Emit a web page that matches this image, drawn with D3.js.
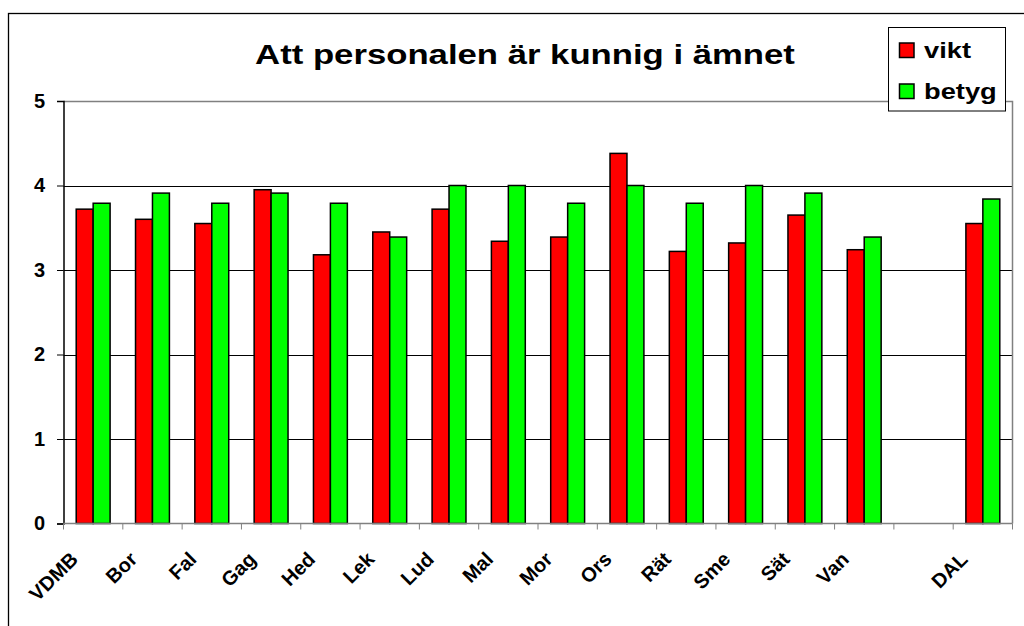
<!DOCTYPE html>
<html>
<head>
<meta charset="utf-8">
<script src="https://cdn.jsdelivr.net/npm/d3@7"></script>
<style>
  body { margin: 0; background: #fff; }
  svg text { font-family: "Liberation Sans", Arial, sans-serif; font-weight: bold; }
</style>
</head>
<body>
<div id="chart"></div>
<script>
const categories = ['VDMB', 'Bor', 'Fal', 'Gag', 'Hed', 'Lek', 'Lud', 'Mal', 'Mor', 'Ors', 'Rät', 'Sme', 'Sät', 'Van', '', 'DAL'];
const vikt  = [3.72, 3.60, 3.55, 3.95, 3.18, 3.45, 3.72, 3.34, 3.39, 4.38, 3.22, 3.32, 3.65, 3.24, null, 3.55];
const betyg = [3.79, 3.91, 3.79, 3.91, 3.79, 3.39, 4.00, 4.00, 3.79, 4.00, 3.79, 4.00, 3.91, 3.39, null, 3.84];
const seriesNames = ['vikt', 'betyg'];
const seriesColors = ['#ff0000', '#00ff00'];
const yTicks = [0, 1, 2, 3, 4, 5];

const width = 1024;
const height = 626;
const plot = { left: 63.5, right: 1012.5, top: 101, bottom: 523.5 };
const stretch = 1.24; // the original text is drawn a bit wide

const svg = d3.select('#chart')
  .append('svg')
  .attr('width', width)
  .attr('height', height);

// outer chart frame (cut off at right and bottom like the original)
svg.append('rect')
  .attr('x', 8.5)
  .attr('y', 13.5)
  .attr('width', 1030)
  .attr('height', 630)
  .attr('fill', 'none')
  .attr('stroke', '#000')
  .attr('stroke-width', 1.3);

const x = d3.scaleBand()
  .domain(categories.map((c, i) => i))
  .range([plot.left, plot.right]);

const x1 = d3.scaleBand()
  .domain(seriesNames)
  .range([0, x.bandwidth()])
  .paddingInner(0)
  .paddingOuter(0.75);

const y = d3.scaleLinear()
  .domain([0, 5])
  .range([plot.bottom, plot.top]);

// gridlines
svg.append('g')
  .selectAll('line')
  .data(yTicks.filter(t => t > 0 && t < 5))
  .enter()
  .append('line')
  .attr('x1', plot.left)
  .attr('x2', plot.right)
  .attr('y1', d => Math.round(y(d)) + 0.5)
  .attr('y2', d => Math.round(y(d)) + 0.5)
  .attr('stroke', '#000');

// plot area border (top/right)
svg.append('path')
  .attr('d', `M${plot.left},${plot.top + 0.5}H${plot.right}V${plot.bottom}`)
  .attr('fill', 'none')
  .attr('stroke', '#808080')
  .attr('stroke-width', 1.5);

// bars
const data = [vikt, betyg];
const groups = svg.append('g')
  .selectAll('g')
  .data(categories.map((c, i) => i))
  .enter()
  .append('g')
  .attr('transform', i => `translate(${x(i)},0)`);

groups.selectAll('rect')
  .data(i => seriesNames.map((s, k) => ({ s, k, v: data[k][i] })).filter(d => d.v != null))
  .enter()
  .append('rect')
  .attr('x', d => x1(d.s))
  .attr('y', d => y(d.v))
  .attr('width', x1.bandwidth())
  .attr('height', d => y(0) - y(d.v))
  .attr('fill', d => seriesColors[d.k])
  .attr('stroke', '#000')
  .attr('stroke-width', 1.5);

// y axis
const yAxis = d3.axisLeft(y)
  .tickValues(yTicks)
  .tickSize(6.5)
  .tickPadding(12)
  .tickFormat(d3.format('d'));

const yg = svg.append('g')
  .attr('transform', `translate(${plot.left},0)`)
  .call(yAxis);
yg.select('.domain').attr('stroke', '#000').attr('stroke-width', 1.5);
yg.selectAll('.tick line').attr('stroke', '#000');
yg.selectAll('.tick text')
  .attr('font-size', 20)
  .attr('font-family', '"Liberation Sans", Arial, sans-serif')
  .attr('font-weight', 'bold')
  .attr('fill', '#000');

// x axis: ticks at category boundaries
const xg = svg.append('g')
  .attr('transform', `translate(0,${plot.bottom})`);
xg.append('line')
  .attr('x1', plot.left)
  .attr('x2', plot.right)
  .attr('stroke', '#808080')
  .attr('stroke-width', 1.5);
xg.selectAll('.xtick')
  .data(categories.map((c, i) => i).concat([categories.length]))
  .enter()
  .append('line')
  .attr('class', 'xtick')
  .attr('x1', i => (i < categories.length ? x(i) : plot.right))
  .attr('x2', i => (i < categories.length ? x(i) : plot.right))
  .attr('y1', 0)
  .attr('y2', 6)
  .attr('stroke', '#808080');

xg.selectAll('.xlabel')
  .data(categories.map((c, i) => i))
  .enter()
  .append('text')
  .attr('class', 'xlabel')
  .attr('transform', i => `translate(${x(i) + x.bandwidth() / 2 - 14},37) rotate(-45)`)
  .attr('text-anchor', 'end')
  .attr('font-size', 20)
  .attr('fill', '#000')
  .text(i => categories[i]);

// title
svg.append('text')
  .attr('transform', `translate(525,63.5) scale(${stretch},1)`)
  .attr('text-anchor', 'middle')
  .attr('font-size', 28)
  .attr('fill', '#000')
  .text('Att personalen är kunnig i ämnet');

// legend
const legend = svg.append('g')
  .attr('transform', 'translate(888.5,27.5)');
legend.append('rect')
  .attr('width', 117)
  .attr('height', 83.5)
  .attr('fill', '#fff')
  .attr('stroke', '#000');

const item = legend.selectAll('.item')
  .data(seriesNames)
  .enter()
  .append('g')
  .attr('class', 'item')
  .attr('transform', (d, i) => `translate(11,${30 + i * 41})`);
item.append('rect')
  .attr('width', 14.5)
  .attr('height', 14.5)
  .attr('y', -14.5)
  .attr('fill', (d, i) => seriesColors[i])
  .attr('stroke', '#000')
  .attr('stroke-width', 1.5);
item.append('text')
  .attr('transform', `translate(24.5,0) scale(${stretch},1)`)
  .attr('font-size', 22)
  .attr('fill', '#000')
  .text(d => d);
</script>
</body>
</html>
